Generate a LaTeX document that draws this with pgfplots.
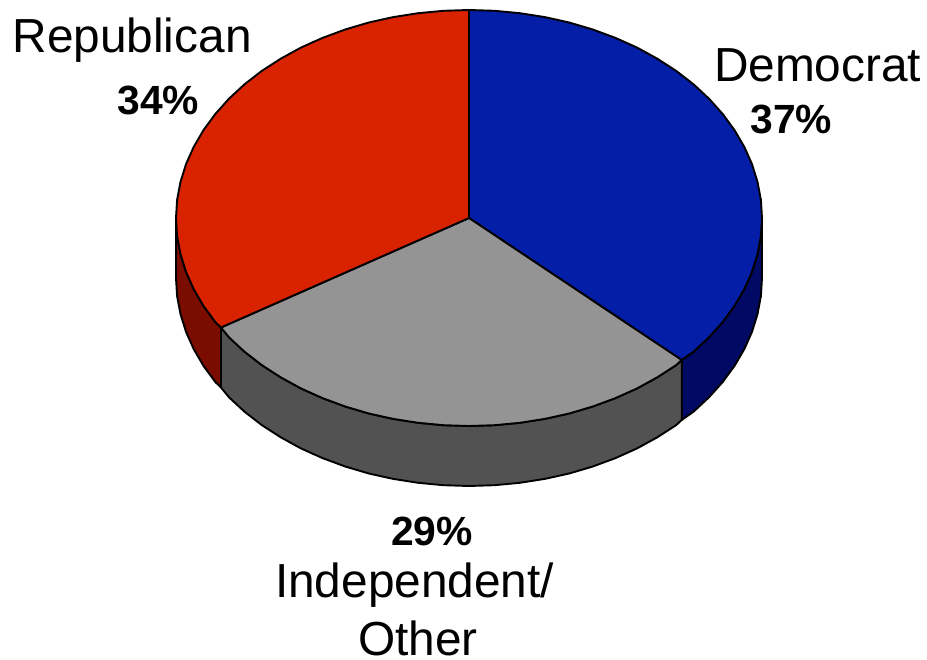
\documentclass[border=0pt]{standalone}
\usepackage{pgfplots}
\pgfplotsset{compat=1.18}
\usepackage{fontspec}
\setmainfont{Liberation Sans}
\definecolor{demtop}{RGB}{4,30,168}
\definecolor{demside}{RGB}{0,10,100}
\definecolor{reptop}{RGB}{217,34,0}
\definecolor{repside}{RGB}{122,12,0}
\definecolor{indtop}{RGB}{148,148,148}
\definecolor{indside}{RGB}{82,82,82}
\newcommand{\lab}{\fontsize{47.8}{47.8}\selectfont}
\newcommand{\pct}{\fontsize{40.8}{40.8}\selectfont\bfseries}
\tikzset{slicetext/.style={anchor=base west, inner sep=0pt, outer sep=0pt, text=black}}
\begin{document}
\begin{tikzpicture}
\begin{axis}[
  scale only axis, width=927pt, height=660pt,
  xmin=0, xmax=927, ymin=0, ymax=660, y dir=reverse,
  axis lines=none, clip=false,
  every axis plot/.append style={draw=black, line width=1.9pt, line join=round, mark=none},
]
% Keep the full plotting area in the page size
\path (axis cs:0,0) rectangle (axis cs:927,660);
% Rim of the disc: Democrat 37%
\addplot[fill=demside] coordinates {
 (762,218) (760.9,236.1) (757.5,254.1) (752,271.8) (744.3,289.1) (734.5,305.9)
 (722.7,322) (709,337.3) (693.5,351.7) (681.7,360)
 (681.7,420) (693.5,411.7) (709,397.3) (722.7,382) (734.5,365.9) (744.3,349.1)
 (752,331.8) (757.5,314.1) (760.9,296.1) (762,278)
} -- cycle;
% Rim: Republican 34%
\addplot[fill=repside] coordinates {
 (221,327.5) (215.3,322) (203.5,305.9) (193.7,289.1) (186,271.8) (180.5,254.1)
 (177.1,236.1) (176,218)
 (176,278) (177.1,296.1) (180.5,314.1) (186,331.8) (193.7,349.1) (203.5,365.9)
 (215.3,382) (221,387.5)
} -- cycle;
% Rim: Independent/Other 29%
\addplot[fill=indside] coordinates {
 (681.7,360) (676.2,365.1) (657.3,377.3) (637.1,388.4) (615.5,398.1) (592.8,406.5)
 (569.2,413.5) (544.8,418.9) (519.9,422.8) (494.5,425.2) (469,426) (443.5,425.2)
 (418.1,422.8) (393.2,418.9) (368.8,413.5) (345.2,406.5) (322.5,398.1) (300.9,388.4)
 (280.7,377.3) (261.8,365.1) (244.5,351.7) (229,337.3) (221,327.5)
 (221,387.5) (229,397.3) (244.5,411.7) (261.8,425.1) (280.7,437.3) (300.9,448.4)
 (322.5,458.1) (345.2,466.5) (368.8,473.5) (393.2,478.9) (418.1,482.8) (443.5,485.2)
 (469,486) (494.5,485.2) (519.9,482.8) (544.8,478.9) (569.2,473.5) (592.8,466.5)
 (615.5,458.1) (637.1,448.4) (657.3,437.3) (676.2,425.1) (681.7,420)
} -- cycle;
% Top face: Democrat 37%
\addplot[fill=demtop] coordinates {
 (469,218) (469,10) (494.5,10.8) (519.9,13.2) (544.8,17.1) (569.2,22.5) (592.8,29.5)
 (615.5,37.9) (637.1,47.6) (657.3,58.7) (676.2,70.9) (693.5,84.3) (709,98.7)
 (722.7,114) (734.5,130.1) (744.3,146.9) (752,164.2) (757.5,181.9) (760.9,199.9)
 (762,218) (760.9,236.1) (757.5,254.1) (752,271.8) (744.3,289.1) (734.5,305.9)
 (722.7,322) (709,337.3) (693.5,351.7) (681.7,360)
} -- cycle;
% Top face: Independent/Other 29%
\addplot[fill=indtop] coordinates {
 (469,218) (681.7,360) (676.2,365.1) (657.3,377.3) (637.1,388.4) (615.5,398.1) (592.8,406.5)
 (569.2,413.5) (544.8,418.9) (519.9,422.8) (494.5,425.2) (469,426) (443.5,425.2)
 (418.1,422.8) (393.2,418.9) (368.8,413.5) (345.2,406.5) (322.5,398.1) (300.9,388.4)
 (280.7,377.3) (261.8,365.1) (244.5,351.7) (229,337.3) (221,327.5)
} -- cycle;
% Top face: Republican 34%
\addplot[fill=reptop] coordinates {
 (469,218) (221,327.5) (215.3,322) (203.5,305.9) (193.7,289.1) (186,271.8) (180.5,254.1)
 (177.1,236.1) (176,218) (177.1,199.9) (180.5,181.9) (186,164.2) (193.7,146.9)
 (203.5,130.1) (215.3,114) (229,98.7) (244.5,84.3) (261.8,70.9) (280.7,58.7)
 (300.9,47.6) (322.5,37.9) (345.2,29.5) (368.8,22.5) (393.2,17.1) (418.1,13.2)
 (443.5,10.8) (469,10)
} -- cycle;
% Slice names and shares
\node[slicetext] at (axis cs:12.5,53) {\lab Republican};
\node[slicetext] at (axis cs:117.5,114.5) {\pct 34\%};
\node[slicetext] at (axis cs:714,82) {\lab Democrat};
\node[slicetext] at (axis cs:750.5,134) {\pct 37\%};
\node[slicetext] at (axis cs:391,545) {\pct 29\%};
\node[slicetext] at (axis cs:275,597) {\lab Independent/};
\node[slicetext] at (axis cs:358,655) {\lab Other};
\end{axis}
\end{tikzpicture}
\end{document}
